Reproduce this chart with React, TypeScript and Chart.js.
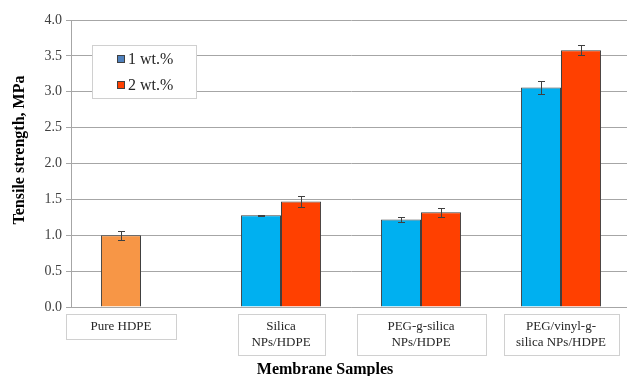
import React, { useEffect, useRef } from "react";
import { Chart, registerables } from "chart.js";

Chart.register(...registerables);

const categories = [
  "Pure HDPE",
  "Silica NPs/HDPE",
  "PEG-g-silica NPs/HDPE",
  "PEG/vinyl-g-silica NPs/HDPE",
];
const categoryLines = [
  ["Pure HDPE"],
  ["Silica", "NPs/HDPE"],
  ["PEG-g-silica", "NPs/HDPE"],
  ["PEG/vinyl-g-", "silica NPs/HDPE"],
];
const seriesLabels = ["1 wt.%", "2 wt.%"];
const values1wt = [1.0, 1.28, 1.22, 3.06];
const values2wt = [null, 1.47, 1.32, 3.58];
const errors1wt = [0.06, 0.005, 0.03, 0.09];
const errors2wt = [null, 0.08, 0.06, 0.07];
const yMin = 0;
const yMax = 4;
const yStep = 0.5;

const labelBoxWidths = [110, 87, 129, 115];
const barColors1 = ["#F79646", "#00B0F0", "#00B0F0", "#00B0F0"];
const barColor2 = "#FF4000";
const legendColors = ["#4F81BD", "#FF4000"];
const SERIF = "'Liberation Serif', 'Times New Roman', serif";

const errorsBySeries = [errors1wt, errors2wt];

const decorPlugin = {
  id: "decor",
  afterDatasetsDraw(chart: any) {
    const ctx = chart.ctx;
    const yScale = chart.scales.y;
    ctx.save();
    ctx.strokeStyle = "#404040";
    ctx.lineWidth = 1;
    chart.data.datasets.forEach((ds: any, i: number) => {
      const meta = chart.getDatasetMeta(i);
      const errs = errorsBySeries[i];
      ds.data.forEach((v: any, j: number) => {
        if (v == null || errs[j] == null) return;
        const el = meta.data[j];
        const x = Math.round(el.x) + 0.5;
        const yt = Math.round(yScale.getPixelForValue(v + errs[j])) + 0.5;
        const yb = Math.round(yScale.getPixelForValue(v - errs[j])) + 0.5;
        ctx.beginPath();
        ctx.moveTo(x, yt);
        ctx.lineTo(x, yb);
        ctx.moveTo(x - 3.5, yt);
        ctx.lineTo(x + 3.5, yt);
        ctx.moveTo(x - 3.5, yb);
        ctx.lineTo(x + 3.5, yb);
        ctx.stroke();
      });
    });
    ctx.restore();
  },
  afterDraw(chart: any) {
    const ctx = chart.ctx;
    const area = chart.chartArea;
    ctx.save();

    // category label boxes
    ctx.font = `13px ${SERIF}`;
    ctx.textAlign = "center";
    ctx.textBaseline = "middle";
    categoryLines.forEach((lines, j) => {
      const xs: number[] = [];
      chart.data.datasets.forEach((ds: any, i: number) => {
        if (ds.data[j] != null) xs.push(chart.getDatasetMeta(i).data[j].x);
      });
      const cx = xs.reduce((a, b) => a + b, 0) / xs.length;
      const w = labelBoxWidths[j];
      const top = Math.round(area.bottom) + 7;
      const h = lines.length * 16 + 9;
      ctx.fillStyle = "#FFFFFF";
      ctx.fillRect(Math.round(cx - w / 2) + 0.5, top + 0.5, w, h);
      ctx.strokeStyle = "#D0D0D0";
      ctx.lineWidth = 1;
      ctx.strokeRect(Math.round(cx - w / 2) + 0.5, top + 0.5, w, h);
      ctx.fillStyle = "#262626";
      lines.forEach((line, k) => {
        ctx.fillText(line, cx, top + 13 + k * 16);
      });
    });

    // legend
    const lx = Math.round(area.left) + 21;
    const ly = Math.round(area.top) + 25;
    ctx.fillStyle = "#FFFFFF";
    ctx.fillRect(lx + 0.5, ly + 0.5, 104, 53);
    ctx.strokeStyle = "#D0D0D0";
    ctx.strokeRect(lx + 0.5, ly + 0.5, 104, 53);
    ctx.font = `16px ${SERIF}`;
    ctx.textAlign = "left";
    seriesLabels.forEach((lab, i) => {
      const cy = ly + 14 + i * 26;
      ctx.fillStyle = legendColors[i];
      ctx.fillRect(lx + 25.5, cy - 3.5, 7, 7);
      ctx.strokeStyle = "#404040";
      ctx.strokeRect(lx + 25.5, cy - 3.5, 7, 7);
      ctx.fillStyle = "#262626";
      ctx.fillText(lab, lx + 36, cy + 1);
    });

    // axis titles
    ctx.fillStyle = "#000000";
    ctx.font = `bold 16px ${SERIF}`;
    ctx.textAlign = "center";
    ctx.save();
    ctx.translate(20, 150);
    ctx.rotate(-Math.PI / 2);
    ctx.fillText("Tensile strength, MPa", 0, 0);
    ctx.restore();
    ctx.fillText("Membrane Samples", 325, 370);

    ctx.restore();
  },
};

export default function App() {
  const canvasRef = useRef<HTMLCanvasElement | null>(null);

  useEffect(() => {
    if (!canvasRef.current) return;
    const chart = new Chart(canvasRef.current, {
      type: "bar",
      data: {
        labels: categories,
        datasets: [
          {
            label: seriesLabels[0],
            data: values1wt,
            backgroundColor: barColors1,
            borderColor: "#404040",
            borderWidth: 1,
          },
          {
            label: seriesLabels[1],
            data: values2wt as any,
            backgroundColor: barColor2,
            borderColor: "#404040",
            borderWidth: 1,
          },
        ],
      },
      options: {
        animation: false,
        responsive: true,
        maintainAspectRatio: false,
        layout: { padding: { top: 20, left: 0, right: 0, bottom: 0 } },
        datasets: {
          bar: { categoryPercentage: 0.572, barPercentage: 1.0 },
        } as any,
        plugins: {
          legend: { display: false },
          tooltip: { enabled: false },
        },
        scales: {
          x: {
            ticks: { display: false },
            grid: { display: false },
            border: { color: "#A6A6A6" },
            afterFit: (s: any) => {
              s.height = 69;
            },
          },
          y: {
            min: yMin,
            max: yMax,
            ticks: {
              stepSize: yStep,
              color: "#404040",
              font: { family: SERIF, size: 14 },
              padding: 4,
              callback: (v: any) => Number(v).toFixed(1),
            },
            grid: { color: "#A6A6A6", tickLength: 5 },
            border: { color: "#A6A6A6" },
            afterFit: (s: any) => {
              s.width = 71;
            },
          },
        },
      },
      plugins: [decorPlugin],
    });
    return () => chart.destroy();
  }, []);

  return (
    <div
      style={{
        position: "fixed",
        left: 0,
        top: 0,
        width: 627,
        height: 376,
        overflow: "hidden",
        background: "#FFFFFF",
      }}
    >
      <div style={{ position: "relative", width: 631, height: 376 }}>
        <canvas ref={canvasRef} />
      </div>
    </div>
  );
}
